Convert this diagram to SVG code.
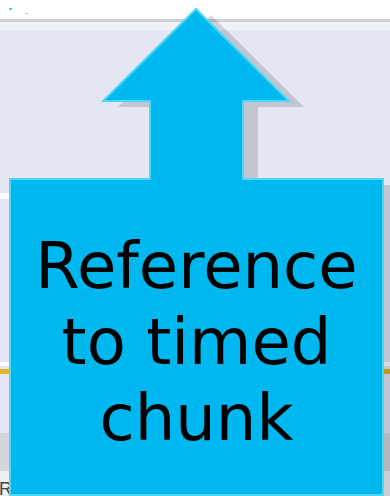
<svg xmlns="http://www.w3.org/2000/svg" width="390" height="496" viewBox="0 0 390 496">
<defs>
<style>
.shape{fill:#00B8F0;stroke:#4FD8F6;stroke-width:2;stroke-linejoin:miter}
.shadow{fill:#000;fill-opacity:0.14}
.lbl{font-family:"DejaVu Sans",sans-serif;font-size:64px;fill:#000;text-anchor:middle}
</style>
</defs>
<g id="background">
<rect x="0" y="0" width="390" height="496" fill="#E4E7F3"/>
<rect x="0" y="0" width="390" height="19" fill="#FFFFFF"/>
<rect x="0" y="19" width="390" height="3" fill="#CDD0D7"/>
<rect x="0" y="22" width="390" height="8" fill="#F1F2F7"/>
<rect x="9" y="8" width="3" height="2" fill="#3DD3F0"/>
<rect x="25" y="13" width="3" height="1" fill="#B8BAC0"/>
<rect x="0" y="193" width="100" height="6" fill="#FFFFFF"/>
<rect x="0" y="362" width="390" height="4" fill="#FFFFFF"/>
<rect x="0" y="369" width="390" height="5" fill="#E2B422"/>
<rect x="0" y="433" width="390" height="38" fill="#D3D5DB"/>
<rect x="0" y="471" width="390" height="25" fill="#EEEFF3"/>
<text x="-1" y="495" font-family="'Liberation Sans',sans-serif" font-size="18" fill="#444">RS</text>
</g>
<g id="connectors"/>
<g id="callout">
<path class="shadow" transform="translate(15,6)" d="M196,9 L289,101 L243,101 L243,179 L383,179 L383,495 L10,495 L10,179 L150,179 L150,101 L103,101 Z"/>
<path class="shape" d="M196,9 L289,101 L243,101 L243,179 L383,179 L383,495 L10,495 L10,179 L150,179 L150,101 L103,101 Z"/>
<text class="lbl" x="196.5" y="288">Reference</text>
<text class="lbl" x="196.5" y="364">to timed</text>
<text class="lbl" x="196.5" y="440">chunk</text>
</g>
</svg>
